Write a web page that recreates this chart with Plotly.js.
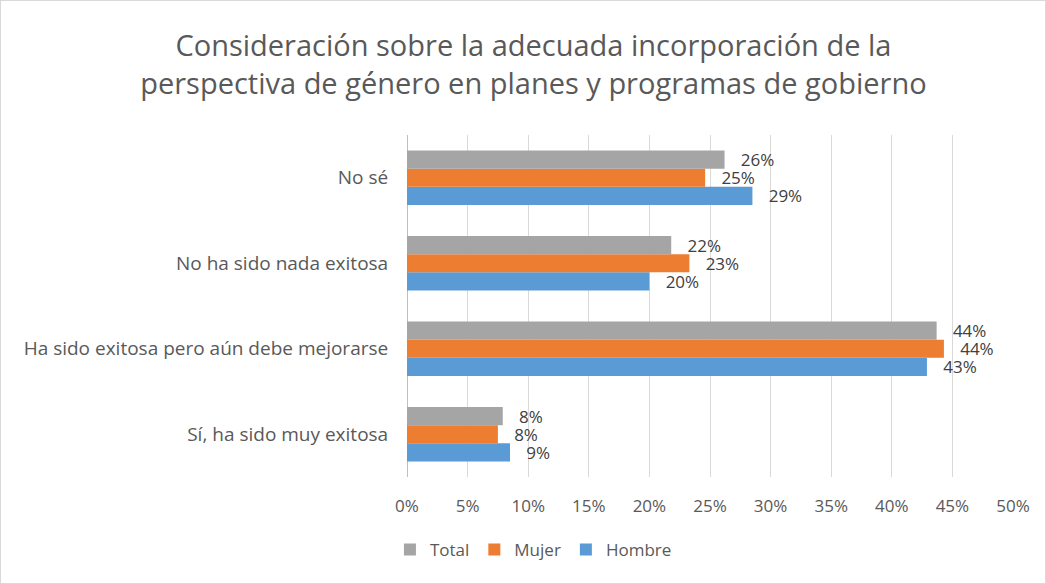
<!DOCTYPE html>
<html>
<head>
<meta charset="utf-8">
<script src="https://cdn.plot.ly/plotly-3.0.1.min.js"></script>
<style>
html,body{margin:0;padding:0;background:#fff;}
#chart{width:1044px;height:582px;border:1px solid #d9d9d9;}
</style>
</head>
<body>
<div id="chart"></div>
<script>
const categories = ["Sí, ha sido muy exitosa", "Ha sido exitosa pero aún debe mejorarse", "No ha sido nada exitosa", "No sé"];
const total  = [7.9, 43.7, 21.8, 26.2];
const mujer  = [7.5, 44.3, 23.3, 24.6];
const hombre = [8.5, 42.9, 20.0, 28.5];
const seriesNames = ["Hombre", "Mujer", "Total"];
const colors = {Total: "#A5A5A5", Mujer: "#ED7D31", Hombre: "#5B9BD5"};
const values = {Total: total, Mujer: mujer, Hombre: hombre};
const tickVals = [0,5,10,15,20,25,30,35,40,45,50];
const tickText = tickVals.map(v => v + "%");

const pad = "\u00a0\u00a0\u00a0";
const traces = seriesNames.map(n => ({
  type: "bar",
  orientation: "h",
  name: n,
  y: categories,
  x: values[n],
  marker: {color: colors[n]},
  text: values[n].map(v => pad + Math.round(v) + "%"),
  textposition: "outside",
  constraintext: "none",
  textfont: {family: "Open Sans, sans-serif", size: 17, color: "#404040"},
  cliponaxis: false,
  hoverinfo: "x+name"
}));

const layout = {
  width: 1044, height: 582,
  paper_bgcolor: "#fff", plot_bgcolor: "#fff",
  margin: {l: 406, r: 32, t: 134, b: 106},
  title: {
    text: "Consideración sobre la adecuada incorporación de la<br>perspectiva de género en planes y programas de gobierno",
    font: {family: "Open Sans, sans-serif", size: 29, color: "#595959"},
    x: 0.51, xanchor: "center", yref: "container", y: 0.905, yanchor: "middle"
  },
  barmode: "group",
  bargap: 0.36,
  bargroupgap: 0,
  xaxis: {
    range: [0, 50],
    tickvals: tickVals, ticktext: tickText,
    showgrid: true, gridcolor: "#d9d9d9", gridwidth: 1,
    zeroline: true, zerolinecolor: "#bfbfbf", zerolinewidth: 1,
    showline: false,
    tickfont: {family: "Open Sans, sans-serif", size: 17, color: "#595959"},
    ticks: "", ticklen: 0,
    ticklabelstandoff: 17
  },
  yaxis: {
    type: "category",
    categoryorder: "array", categoryarray: categories,
    showgrid: false, showline: false, zeroline: false,
    tickfont: {family: "Open Sans, sans-serif", size: 19, color: "#595959"},
    ticks: "outside", ticklen: 14, tickcolor: "rgba(0,0,0,0)"
  },
  showlegend: true,
  legend: {
    orientation: "h", traceorder: "reversed",
    x: 0.51, xref: "container", xanchor: "center",
    y: 0.057, yref: "container", yanchor: "middle",
    font: {family: "Open Sans, sans-serif", size: 17, color: "#595959"},
    itemwidth: 30
  }
};

Plotly.newPlot("chart", traces, layout, {displayModeBar: false});
</script>
</body>
</html>
